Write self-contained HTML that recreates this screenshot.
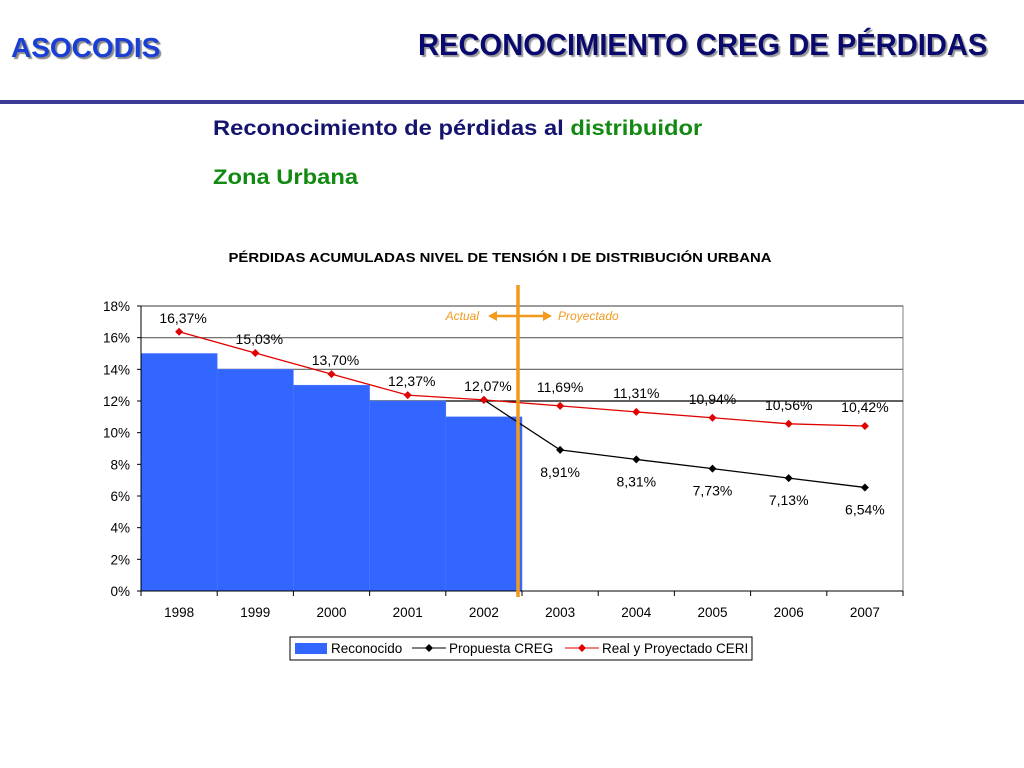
<!DOCTYPE html>
<html><head><meta charset="utf-8"><style>
body{margin:0;width:1024px;height:768px;background:#fff;position:relative;overflow:hidden;font-family:"Liberation Sans",sans-serif}
.t{position:absolute;white-space:nowrap}
</style></head><body>
<div class="t" style="left:11px;top:32px;font-size:28px;font-weight:bold;color:#1a3fd6;text-shadow:2px 2px 1px #888;transform:scaleX(1.0);transform-origin:left">ASOCODIS</div>
<div class="t" style="left:418px;top:27px;font-size:31px;font-weight:bold;color:#0a0a6e;text-shadow:2px 2px 1px #999;transform:scaleX(0.94);transform-origin:left">RECONOCIMIENTO CREG DE PÉRDIDAS</div>
<div style="position:absolute;left:0;top:100px;width:1024px;height:4px;background:#3b3b95"></div>
<div class="t" style="left:213px;top:117px;font-size:21px;font-weight:bold;color:#14146e;transform:scaleX(1.13);transform-origin:left">Reconocimiento de pérdidas al <span style="color:#128a12">distribuidor</span></div>
<div class="t" style="left:213px;top:166px;font-size:21px;font-weight:bold;color:#128a12;transform:scaleX(1.13);transform-origin:left">Zona Urbana</div>
<svg width="1024" height="768" style="position:absolute;left:0;top:0" id="chart">
<text x="500" y="262" text-anchor="middle" font-size="13" font-weight="bold" font-family="Liberation Sans" textLength="543" lengthAdjust="spacingAndGlyphs">PÉRDIDAS ACUMULADAS  NIVEL DE TENSIÓN I DE DISTRIBUCIÓN URBANA</text>
</svg>
<script>
const years=['1998','1999','2000','2001','2002','2003','2004','2005','2006','2007'];
const reconocido=[15,14,13,12,11];
const creg=[null,null,null,null,12.07,8.91,8.31,7.73,7.13,6.54];
const ceri=[16.37,15.03,13.70,12.37,12.07,11.69,11.31,10.94,10.56,10.42];
const cregLabels=[null,null,null,null,null,'8,91%','8,31%','7,73%','7,13%','6,54%'];
const ceriLabels=['16,37%','15,03%','13,70%','12,37%','12,07%','11,69%','11,31%','10,94%','10,56%','10,42%'];
const yTicks=[0,2,4,6,8,10,12,14,16,18];
const gridVals=[12,14,16,18];
const svg=document.getElementById('chart');const NS='http://www.w3.org/2000/svg';
const L=141,R=903,T=306,B=591;const cw=(R-L)/years.length;
const X=i=>L+cw*(i+0.5);const Y=v=>B-(v/18)*(B-T);
function mk(tag,a,txt){const e=document.createElementNS(NS,tag);for(const k in a)e.setAttribute(k,a[k]);if(txt!=null)e.textContent=txt;svg.appendChild(e);return e;}
mk('rect',{x:L,y:T,width:R-L,height:B-T,fill:'#fff',stroke:'#808080'});
gridVals.forEach(v=>{const e=mk('line',{x1:L,x2:R,y1:Y(v),y2:Y(v),stroke:v==12?'#000':'#606060','stroke-width':1.2});});
reconocido.forEach((v,i)=>{const e=mk('rect',{x:L+cw*i,y:Y(v),width:cw,height:B-Y(v),fill:'#3366ff',stroke:'#4a78ff','stroke-width':0.5});

});
mk('line',{x1:L,x2:L,y1:T,y2:B,stroke:'#000'});mk('line',{x1:L,x2:R,y1:B,y2:B,stroke:'#000'});
yTicks.forEach(v=>{mk('line',{x1:L-4,x2:L,y1:Y(v),y2:Y(v),stroke:'#000'});const e=mk('text',{x:L-11,y:Y(v)+5,'text-anchor':'end','font-size':13.5,'font-family':'Liberation Sans'},v+'%');});
years.forEach((y,i)=>{mk('line',{x1:L+cw*i,x2:L+cw*i,y1:B,y2:B+5,stroke:'#000'});const e=mk('text',{x:X(i),y:B+26,'text-anchor':'middle','font-size':13.5,'font-family':'Liberation Sans'},y);});
mk('line',{x1:R,x2:R,y1:B,y2:B+5,stroke:'#000'});
function series(vals,color,name){let pts=[];vals.forEach((v,i)=>{if(v!=null)pts.push(X(i)+','+Y(v));});
const p=mk('polyline',{points:pts.join(' '),fill:'none',stroke:color,'stroke-width':1.3});
vals.forEach((v,i)=>{if(v==null)return;const m=mk('path',{d:`M${X(i)},${Y(v)-4}l4,4l-4,4l-4,-4z`,fill:color});});}
series(creg,'#000','creg');series(ceri,'#e00000','ceri');
ceriLabels.forEach((t,i)=>{if(!t)return;const dy=i<5?-9:-14;const e=mk('text',{x:X(i)+(i<5?4:0),y:Y(ceri[i])+dy,'text-anchor':'middle','font-size':14,'font-family':'Liberation Sans'},t);});
cregLabels.forEach((t,i)=>{if(!t)return;const e=mk('text',{x:X(i),y:Y(creg[i])+27,'text-anchor':'middle','font-size':14,'font-family':'Liberation Sans'},t);});
const dv=mk('line',{x1:518,x2:518,y1:285,y2:597,stroke:'#f39a1e','stroke-width':3.5});
mk('line',{x1:494,x2:544,y1:316,y2:316,stroke:'#f39a1e','stroke-width':2.5});
mk('path',{d:'M488,316l9,-5v10z',fill:'#f39a1e'});mk('path',{d:'M552,316l-9,-5v10z',fill:'#f39a1e'});
mk('text',{x:479,y:320,'text-anchor':'end','font-size':12,'font-style':'italic',fill:'#f39a1e','font-family':'Liberation Sans'},'Actual');
mk('text',{x:558,y:320,'font-size':12,'font-style':'italic',fill:'#f39a1e','font-family':'Liberation Sans'},'Proyectado');
const lg=mk('rect',{x:290,y:637,width:462,height:23,fill:'#fff',stroke:'#000'});
mk('rect',{x:295,y:643,width:32,height:11,fill:'#3366ff'});
mk('text',{x:331,y:653,'font-size':13.5,'font-family':'Liberation Sans'},'Reconocido');
mk('line',{x1:412,x2:446,y1:648,y2:648,stroke:'#000'});mk('path',{d:'M429,644l4,4l-4,4l-4,-4z',fill:'#000'});
mk('text',{x:449,y:653,'font-size':13.5,'font-family':'Liberation Sans'},'Propuesta CREG');
mk('line',{x1:565,x2:599,y1:648,y2:648,stroke:'#e00000'});mk('path',{d:'M582,644l4,4l-4,4l-4,-4z',fill:'#e00000'});
mk('text',{x:602,y:653,'font-size':13.5,'font-family':'Liberation Sans'},'Real y Proyectado CERI');
</script>
</body></html>
